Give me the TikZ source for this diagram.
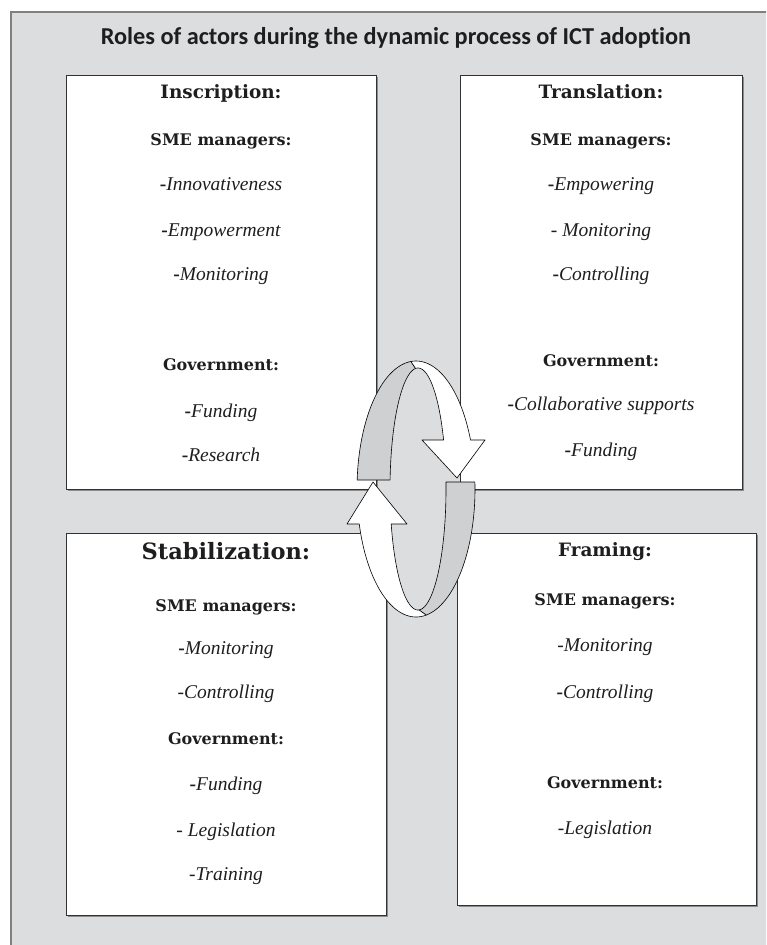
\documentclass[tikz,border=0pt]{standalone}
\usepackage{fontspec}
\setmainfont{DejaVu Serif}
\newfontfamily\titlefont{Carlito}[Ligatures={NoCommon}]
\newfontfamily\itemserif{Liberation Serif}
\usetikzlibrary{shadows}
\definecolor{bgc}{RGB}{220,221,223}
\definecolor{bandc}{RGB}{207,208,210}
\definecolor{framec}{RGB}{128,128,128}
\definecolor{boxc}{RGB}{50,50,50}
\definecolor{txtc}{RGB}{30,30,30}
\newcommand{\bdash}{{\upshape\bfseries -}}
\tikzset{
  boxst/.style={draw=boxc, line width=1.2pt, fill=white, inner sep=0pt,
    drop shadow={shadow xshift=1.3pt, shadow yshift=-1.3pt, fill=black!45, opacity=1}},
  txt/.style={inner sep=0pt, text=txtc, text height=0.7em, text depth=0pt},
  head/.style={txt, font=\bfseries\fontsize{18.4}{20}\selectfont},
  bighead/.style={txt, font=\bfseries\fontsize{22.5}{24}\selectfont},
  sub/.style={txt, font=\bfseries\fontsize{16}{18}\selectfont},
  item/.style={txt, font=\itemserif\itshape\fontsize{19.5}{21}\selectfont},
  greyband/.style={fill=bandc, draw=black, line width=0.6pt, line join=round},
  whiteband/.style={fill=white, draw=black, line width=0.6pt, line join=round},
}
\begin{document}
\begin{tikzpicture}[x=1pt,y=-1pt]
\clip (0,0) rectangle (766,945);
\useasboundingbox (0,0) rectangle (766,945);
\fill[white] (0,0) rectangle (766,945);
% outer frame
\draw[framec, fill=bgc, line width=1.5pt] (11,12) rectangle (800,980);
% title
\node[inner sep=0pt, text=txtc, font=\titlefont\bfseries\fontsize{24.3}{26}\selectfont] (title) at (396,38) {Roles of actors during the dynamic process of ICT adoption};

% boxes
\node[boxst, minimum width=310pt, minimum height=414pt, anchor=north west] (insc) at (66,75) {};
\node[boxst, minimum width=282pt, minimum height=414pt, anchor=north west] (trans) at (460,75) {};
\node[boxst, minimum width=320pt, minimum height=382pt, anchor=north west] (stab) at (66,533) {};
\node[boxst, minimum width=299pt, minimum height=372pt, anchor=north west] (fram) at (457,533) {};

% Inscription
\node[head] (i1) at (221,95) {Inscription:};
\node[sub]  (i2) at (221,142) {SME managers:};
\node[item] (i3) at (221,187) {\bdash Innovativeness};
\node[item] (i4) at (221,233) {\bdash Empowerment};
\node[item] (i5) at (221,277) {\bdash Monitoring};
\node[sub]  (i6) at (221,367) {Government:};
\node[item] (i7) at (221,414) {\bdash Funding};
\node[item] (i8) at (221,458) {\bdash Research};

% Translation
\node[head] (t1) at (601,95) {Translation:};
\node[sub]  (t2) at (601,142) {SME managers:};
\node[item] (t3) at (601,187) {\bdash Empowering};
\node[item] (t4) at (601,233) {- Monitoring};
\node[item] (t5) at (601,277) {\bdash Controlling};
\node[sub]  (t6) at (601,363) {Government:};
\node[item] (t7) at (601,407) {\bdash Collaborative supports};
\node[item] (t8) at (601,453) {\bdash Funding};

% Stabilization
\node[bighead] (s1) at (226,556) {Stabilization:};
\node[sub]  (s2) at (226,608) {SME managers:};
\node[item] (s3) at (226,651) {\bdash Monitoring};
\node[item] (s4) at (226,695) {-Controlling};
\node[sub]  (s5) at (226,741) {Government:};
\node[item] (s6) at (226,787) {\bdash Funding};
\node[item] (s7) at (226,833) {- Legislation};
\node[item] (s8) at (226,877) {-Training};

% Framing
\node[head] (f1) at (605,553) {Framing:};
\node[sub]  (f2) at (605,602) {SME managers:};
\node[item] (f3) at (605,648) {-Monitoring};
\node[item] (f4) at (605,695) {\bdash Controlling};
\node[sub]  (f5) at (605,785) {Government:};
\node[item] (f6) at (605,831) {-Legislation};

% cycle ring
% A: grey, upper left
\path[greyband] plot[domain=95:175.97, samples=40] ({416+59*cos(\x)},{489-128*sin(\x)})
  -- plot[domain=175.73:95, samples=40] ({418+28*cos(\x)},{489-121*sin(\x)}) -- cycle;
% C: grey, lower right
\path[greyband] plot[domain=3.135:-80, samples=40] ({416+59*cos(\x)},{489-128*sin(\x)})
  -- plot[domain=-88:3.32, samples=40] ({418+28*cos(\x)},{489-121*sin(\x)}) -- cycle;
% B: white, upper right, arrow down
\path[whiteband] plot[domain=95:22.51, samples=40] ({416+59*cos(\x)},{489-128*sin(\x)})
  -- (485,440) -- (457,478) -- (422,440)
  -- plot[domain=23.89:95, samples=40] ({418+28*cos(\x)},{489-121*sin(\x)}) -- cycle;
% D: white, lower left, arrow up
\path[whiteband] plot[domain=-80:-164.13, samples=40] ({416+59*cos(\x)},{489-128*sin(\x)})
  -- (347,524) -- (373,482) -- (407,524)
  -- plot[domain=-163.18:-88, samples=40] ({418+28*cos(\x)},{489-121*sin(\x)}) -- cycle;
\end{tikzpicture}
\end{document}
